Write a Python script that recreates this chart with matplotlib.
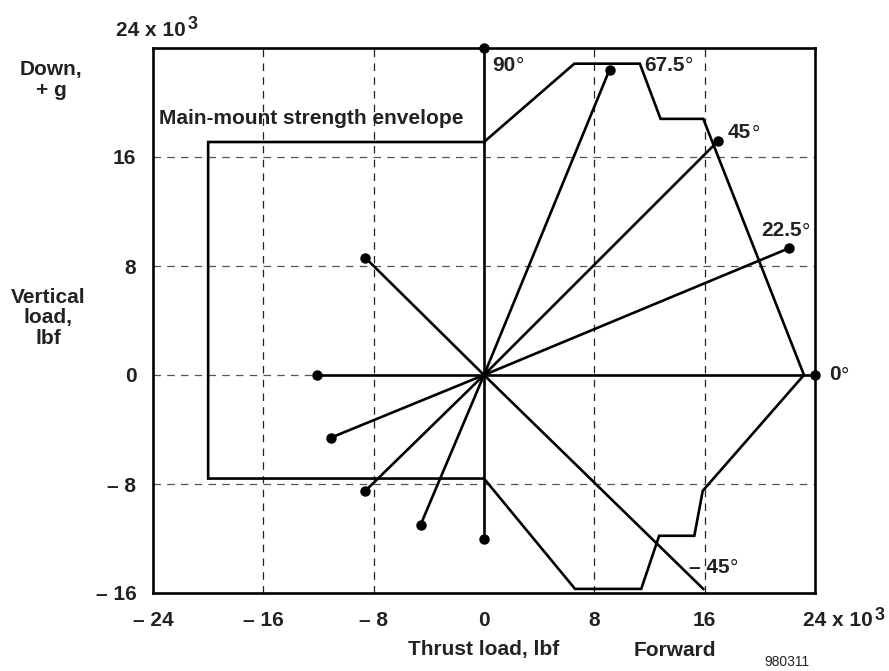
import matplotlib
matplotlib.use("Agg")
import matplotlib.pyplot as plt

plt.rcParams['font.family'] = ['Liberation Sans', 'DejaVu Sans']

# Data (x 10^3 lbf)
env_x = [0, -20.0, -20.0, 0, 6.6, 11.4, 12.7, 15.25, 15.86, 23.2, 15.9, 12.8, 11.3, 6.55, 0]
env_y = [17.1, 17.1, -7.6, -7.6, -15.7, -15.7, -11.8, -11.8, -8.5, 0, 18.8, 18.8, 22.85, 22.85, 17.1]

ray_x = [0, 9.1, 17.0, 22.1, 24.0, 15.9, 0, -4.6, -8.6, -11.1, -12.1, -8.6]
ray_y = [24.0, 22.4, 17.2, 9.3, 0, -15.7, -12.0, -11.0, -8.5, -4.6, 0, 8.6]
ray_dot = [True, True, True, True, True, False, True, True, True, True, True, True]

ang_labels = ["90", "67.5", "45", "22.5", "0", "\u2013 45"]
ang_x = [0.6, 11.6, 17.7, 20.1, 25.0, 14.9]
ang_y = [22.75, 22.75, 17.8, 10.6, 0, -14.1]

xticks = [-24, -16, -8, 0, 8, 16]
xticklabels = ["\u2013 24", "\u2013 16", "\u2013 8", "0", "8", "16"]
yticks = [-16, -8, 0, 8, 16]
yticklabels = ["\u2013 16", "\u2013 8", "0", "8", "16"]
gridx = [-16, -8, 8, 16]
gridy = [-8, 0, 8, 16]

FS = 15
TC = '#222222'

fig = plt.figure(figsize=(8.89, 6.71), dpi=100)
ax = fig.add_axes([153/889, 1-593/671, (815-153)/889, (593-48)/671])
ax.set_xlim(-24, 24)
ax.set_ylim(-16, 24)

for gx in gridx:
    ax.axvline(gx, color='#222222', lw=0.9, dashes=(6, 5), zorder=1)
for gy in gridy:
    ax.axhline(gy, color='#555555', lw=0.9, dashes=(6, 5), zorder=1)

ax.plot(env_x, env_y, color='black', lw=1.9, zorder=3, solid_joinstyle='miter')

for x, y, d in zip(ray_x, ray_y, ray_dot):
    ax.plot([0, x], [0, y], color='black', lw=1.9, zorder=3, clip_on=False)
    if d:
        ax.plot([x], [y], 'o', color='black', ms=6.5, zorder=4, clip_on=False)

for lab, x, y in zip(ang_labels, ang_x, ang_y):
    t = ax.text(x, y, lab, fontsize=FS, fontweight='bold', color=TC,
                ha='left', va='center', clip_on=False)
    ax.annotate("\u00b0", xy=(1, 1), xycoords=t, xytext=(0, -1), textcoords='offset points',
                fontsize=FS, fontweight='normal', color=TC, ha='left', va='top',
                annotation_clip=False)

ax.text(-23.55, 18.8, "Main-mount strength envelope", fontsize=FS, fontweight='bold',
        color=TC, ha='left', va='center')

for s in ax.spines.values():
    s.set_linewidth(1.9)

ax.set_xticks(xticks)
ax.set_xticklabels(xticklabels)
ax.set_yticks(yticks)
ax.set_yticklabels(yticklabels)
ax.tick_params(length=0, labelsize=FS, colors=TC, pad=12)
ax.tick_params(axis='x', pad=13)
for t in ax.get_xticklabels() + ax.get_yticklabels():
    t.set_fontweight('bold')


def sci_label(px, py):
    t = fig.text(px/889, 1-py/671, "24 x 10", fontsize=FS, fontweight='bold',
                 color=TC, ha='left', va='center')
    ax.annotate("3", xy=(1, 1), xycoords=t, xytext=(1, 3.5), textcoords='offset points',
                fontsize=FS - 2, fontweight='bold', color=TC, ha='left', va='top',
                annotation_clip=False)


sci_label(803, 621)
sci_label(116, 30)

fig.text(51/889, 1-80/671, "Down,\n+ g", fontsize=FS, fontweight='bold',
         color=TC, ha='center', va='center', linespacing=1.2)
fig.text(48/889, 1-318/671, "Vertical\nload,\nlbf", fontsize=FS, fontweight='bold',
         color=TC, ha='center', va='center', linespacing=1.1)
fig.text(484/889, 1-650/671, "Thrust load, lbf", fontsize=FS, fontweight='bold',
         color=TC, ha='center', va='center')
fig.text(675/889, 1-650/671, "Forward", fontsize=FS, fontweight='bold',
         color=TC, ha='center', va='center')
fig.text(787/889, 1-662/671, "980311", fontsize=10, color=TC,
         ha='center', va='center')

fig.savefig("out.png", dpi=100)
